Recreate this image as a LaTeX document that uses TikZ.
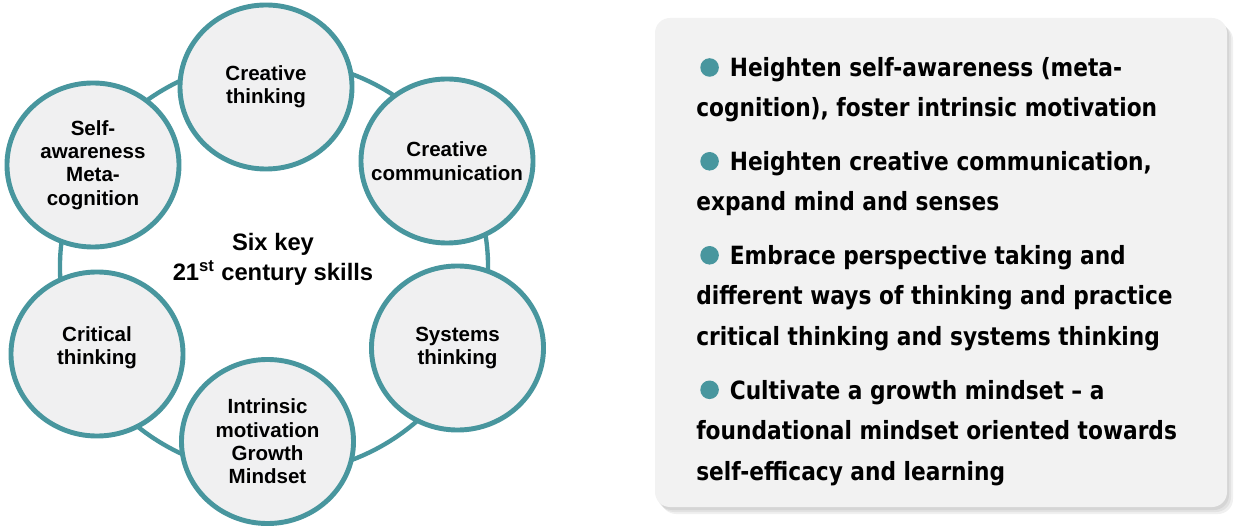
\documentclass[tikz,border=0pt]{standalone}
\usepackage{fontspec}
\setmainfont{Liberation Sans}
\newfontfamily\panelfont{DejaVu Sans}[FakeStretch=0.865]
\usetikzlibrary{shapes.geometric}
\definecolor{tealring}{RGB}{72,150,158}
\definecolor{bubblefill}{RGB}{240,240,241}
\definecolor{panelfill}{RGB}{242,242,242}
\newcommand\tealdot{\hspace{2.85pt}\tikz[baseline=0pt]\fill[tealring] (0pt,6.55pt) circle[radius=6.6pt];\hspace{7.8pt}}
\tikzset{
  skill/.style={ellipse, draw=tealring, line width=3.5pt, fill=bubblefill,
    minimum width=4.3cm, minimum height=4.1cm, inner sep=0pt},
  skilltext/.style={align=center, inner sep=0pt,
    font=\bfseries\fontsize{14.6}{16.6}\selectfont},
  hubtext/.style={align=center, inner sep=0pt,
    font=\bfseries\fontsize{16.9}{21.3}\selectfont},
  paneltext/.style={anchor=base west, inner sep=0pt,
    font=\panelfont\bfseries\fontsize{17.85}{20}\selectfont}
}

\begin{document}
\begin{tikzpicture}[x=0.025cm, y=-0.025cm]
	\useasboundingbox (0,0) rectangle (1240,530);
	% panel with soft shadow
	\fill [black, opacity=0.06, rounded corners=0.375cm] (657,21) rectangle (1229,510);
	\fill [black, opacity=0.06, rounded corners=0.375cm] (659,23) rectangle (1231,512);
	\fill [black, opacity=0.06, rounded corners=0.375cm] (661,25) rectangle (1233,514);
	\fill [panelfill, rounded corners=0.375cm] (655,18) rectangle (1227,507);
	\node [paneltext] (b1a) at (696,76.7) {\tealdot Heighten self-awareness (meta-};
	\node [paneltext] (b1b) at (696,117) {cognition), foster intrinsic motivation};
	\node [paneltext] (b2a) at (696,170.5) {\tealdot Heighten creative communication,};
	\node [paneltext] (b2b) at (696,211) {expand mind and senses};
	\node [paneltext] (b3a) at (696,264.5) {\tealdot Embrace perspective taking and};
	\node [paneltext] (b3b) at (696,305) {different ways of thinking and practice};
	\node [paneltext] (b3c) at (696,345.5) {critical thinking and systems thinking};
	\node [paneltext] (b4a) at (696,399) {\tealdot Cultivate a growth mindset – a};
	\node [paneltext] (b4b) at (696,439.5) {foundational mindset oriented towards};
	\node [paneltext] (b4c) at (696,480) {self-efficacy and learning};
	% ring and skills
	\coordinate (ringc) at (274,267);
	\draw [tealring, line width=3.1pt] (ringc) ellipse [x radius=5.35cm, y radius=5.175cm];
	\node [skill, label={[skilltext]center:Creative\\thinking}] (ct) at (266,87) {};
	\node [skill, label={[skilltext]center:Creative\\communication}] (cc) at (447,161) {};
	\node [skill, label={[skilltext]center:Systems\\thinking}] (st) at (457.5,348) {};
	\node [skill, label={[skilltext]center:Intrinsic\\motivation\\Growth\\Mindset}] (im) at (267.5,441.5) {};
	\node [skill, label={[skilltext, yshift=4.3pt]center:Critical\\thinking}] (cr) at (97,354) {};
	\node [skill, label={[skilltext]center:Self-\\awareness\\Meta-\\cognition}] (sa) at (93,165) {};
	\node [hubtext] (hub) at (273,259) {Six key\\21\textsuperscript{st} century skills};
\end{tikzpicture}
\end{document}
